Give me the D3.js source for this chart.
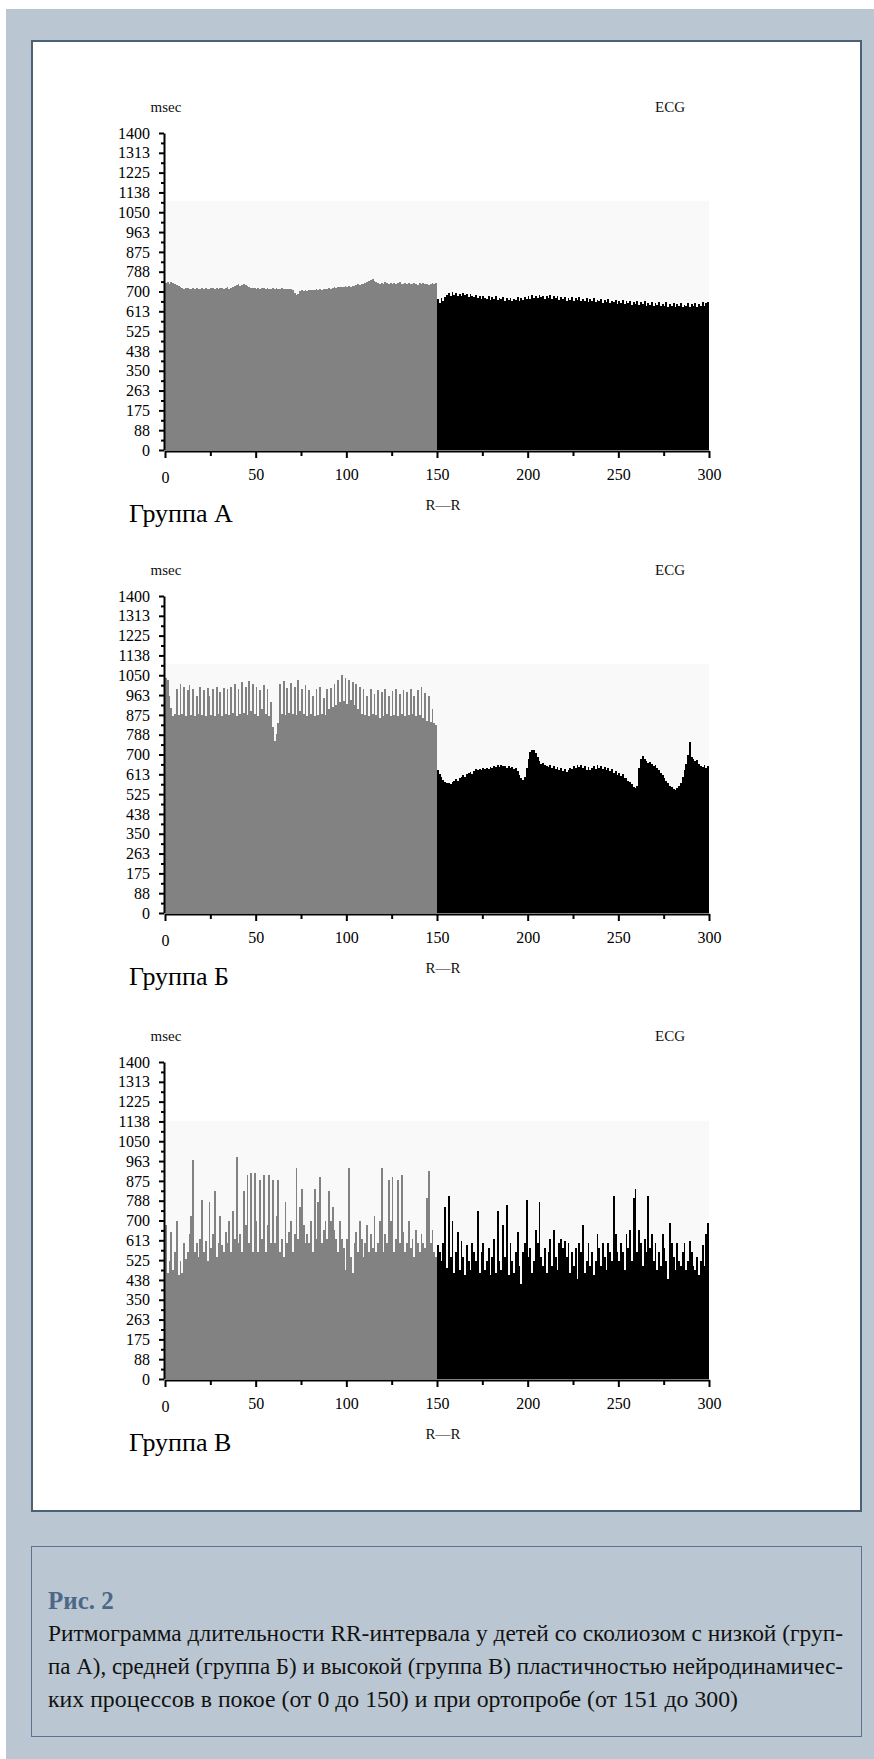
<!DOCTYPE html>
<html>
<head>
<meta charset="utf-8">
<script src="https://cdn.jsdelivr.net/npm/d3@7"></script>
<style>
body { margin: 0; background: #fff; }
</style>
</head>
<body>
<script>
// --- data ---
var groupNames = ['Группа А', 'Группа Б', 'Группа В'];
var xTicks = [0, 50, 100, 150, 200, 250, 300];
var xMinorTicks = [25, 75, 125, 175, 225, 275];
var yTickLabels = ['0', '88', '175', '263', '350', '438', '525', '613', '700',
  '788', '875', '963', '1050', '1138', '1225', '1313', '1400'];
var bandTops = [1100, 1100, 1140];

// группа А, покой (1-150)
var restA = [738, 742, 735, 740, 736, 733, 728, 726,
  718, 715, 712, 716, 714, 711, 713, 716, 712, 714, 710, 713,
  715, 712, 716, 713, 711, 714, 717, 712, 715, 713, 716, 714, 712, 715, 718, 713, 716, 720, 724, 728,
  732, 726, 729, 733, 727, 724, 720, 716, 714, 717,
  713, 716, 712, 715, 714, 711, 716, 713, 710, 714, 712, 715, 711, 713, 716, 712, 709, 713, 710, 712, 708,
  695, 684, 690, 702, 706,
  704, 707, 703, 706, 708, 705, 707, 709, 706, 710, 708, 711, 709, 712, 714, 712, 716, 718, 716,
  720, 718, 722, 719, 723, 721, 725, 722, 726, 724, 728, 731, 729, 733, 735, 738, 741,
  746, 752, 756, 748, 742, 737,
  734, 738, 735, 740, 736, 733, 737, 735, 739, 734, 736, 740, 732, 735, 738, 733, 736, 731, 735, 738,
  734, 730, 736, 733, 738, 732, 735, 729, 734, 737, 731, 736];
// группа А, ортопроба (151-300)
var orthoA = [665, 650, 672, 660, 676,
  684, 692, 680, 698, 686, 694, 682, 690, 678, 695, 684, 688, 676, 690, 680,
  674, 684, 670, 679, 666, 680, 672, 668, 678, 664, 674, 668, 679, 662, 672, 666, 676, 660, 670, 664,
  672, 658, 668, 662, 674, 660, 670, 664, 676, 666,
  678, 668, 684, 672, 680, 670, 686, 674, 682, 668, 680, 672, 684, 666, 678, 670, 682, 664, 676, 668,
  674, 660, 672, 664, 676, 658, 670, 662, 674, 656, 668, 660, 672, 654, 666, 658, 670, 652, 664, 656,
  666, 650, 662, 654, 668, 648, 660, 652, 664, 646, 658, 650, 662, 644, 656, 648, 660, 642, 654, 646,
  658, 640, 652, 644, 656, 638, 650, 642, 655, 636, 648, 640, 654, 634, 646, 638, 652, 632, 645, 637,
  650, 632, 644, 636, 650, 630, 642, 635, 648, 630, 644, 636, 650, 632, 645, 638, 652, 634, 648, 655];

// группа Б
var restB = [1040, 1030, 960, 905, 870, 880, 990, 875, 1010, 880,
  1000, 870, 985, 1005, 875, 990, 870, 960, 880, 1000,
  875, 985, 870, 995, 960, 875, 990, 870, 1000, 880,
  975, 870, 995, 880, 990, 875, 1000, 885, 1010, 870,
  990, 880, 1020, 885, 1000, 875, 1025, 890, 1010, 880,
  1000, 870, 985, 900, 1005, 880, 990, 870, 930, 820,
  760, 790, 840, 1010, 880, 1025, 875, 995, 885, 1015,
  880, 1000, 875, 1030, 890, 990, 880, 1005, 870, 985,
  880, 960, 870, 990, 875, 1000, 880, 950, 875, 990,
  900, 995, 910, 1010, 920, 1030, 930, 1050, 935, 1040,
  925, 1030, 940, 1020, 920, 1010, 900, 1000, 880, 990,
  875, 960, 870, 990, 880, 965, 875, 985, 860, 975,
  870, 990, 880, 960, 870, 980, 875, 990, 870, 965,
  880, 985, 870, 975, 875, 990, 880, 960, 870, 985,
  875, 1000, 860, 970, 850, 960, 845, 900, 840, 830];
var orthoB = [630, 615, 600, 588, 578, 572, 575, 570, 580, 585,
  590, 584, 596, 600, 608, 602, 612, 618, 622, 616,
  628, 635, 630, 638, 632, 640, 636, 642, 638, 645,
  640, 648, 644, 652, 646, 655, 648, 650, 642, 648,
  640, 646, 636, 642, 625, 610, 598, 588, 600, 640,
  680, 712, 722, 718, 705, 690, 672, 660, 664, 655,
  650, 645, 652, 640, 648, 636, 644, 630, 640, 628,
  635, 622, 630, 640, 634, 648, 640, 655, 645, 652,
  640, 648, 632, 644, 630, 642, 650, 638, 652, 640,
  648, 636, 645, 630, 640, 625, 636, 618, 628, 610,
  620, 605, 612, 598, 596, 585, 578, 568, 558, 550,
  560, 640, 680, 695, 682, 670, 662, 668, 660, 650,
  652, 640, 630, 618, 608, 596, 585, 572, 560, 555,
  548, 545, 550, 560, 575, 600, 630, 660, 700, 755,
  690, 680, 670, 675, 660, 650, 645, 655, 640, 648];

// группа В
var restC = [680, 470, 520, 650, 480, 560, 700, 460, 520, 470,
  600, 530, 560, 640, 720, 965, 560, 600, 540, 620,
  790, 560, 610, 520, 780, 580, 640, 830, 540, 600,
  720, 590, 560, 650, 600, 700, 560, 740, 620, 980,
  600, 640, 560, 830, 680, 900, 600, 910, 560, 910,
  700, 560, 880, 620, 900, 560, 680, 900, 600, 880,
  600, 720, 880, 560, 620, 540, 780, 600, 650, 700,
  560, 640, 930, 620, 760, 840, 680, 600, 640, 600,
  700, 560, 840, 620, 780, 890, 600, 660, 700, 620,
  830, 700, 760, 660, 620, 560, 700, 620, 580, 480,
  620, 930, 540, 470, 600, 650, 560, 700, 620, 540,
  600, 680, 560, 640, 580, 720, 560, 600, 700, 930,
  560, 640, 600, 880, 700, 890, 560, 620, 880, 600,
  900, 650, 560, 600, 700, 580, 620, 540, 660, 600,
  560, 640, 600, 580, 800, 920, 600, 660, 560, 540];
var orthoC = [590, 560, 520, 600, 760, 490, 810, 540, 700, 470,
  560, 650, 480, 610, 540, 460, 590, 520, 480, 600,
  560, 520, 740, 470, 560, 600, 480, 520, 580, 460,
  540, 620, 470, 740, 520, 480, 680, 540, 770, 460,
  600, 520, 470, 560, 650, 500, 420, 560, 600, 790,
  540, 580, 470, 520, 660, 600, 780, 540, 500, 580,
  470, 560, 620, 500, 660, 540, 480, 600, 620, 580,
  610, 540, 600, 470, 560, 500, 580, 440, 600, 560,
  680, 470, 520, 600, 500, 560, 460, 520, 640, 580,
  500, 600, 540, 480, 600, 560, 520, 810, 640, 560,
  520, 600, 560, 480, 640, 580, 660, 520, 800, 840,
  560, 660, 600, 500, 620, 560, 810, 580, 640, 520,
  600, 480, 560, 500, 640, 580, 520, 440, 690, 600,
  540, 480, 600, 520, 500, 560, 600, 480, 520, 610,
  560, 500, 480, 540, 460, 520, 590, 500, 640, 690];

var captionTitle = 'Рис. 2';
var captionLines = [
  'Ритмограмма длительности RR-интервала у детей со сколиозом с низкой (груп-',
  'па А), средней (группа Б) и высокой (группа В) пластичностью нейродинамичес-',
  'ких процессов в покое (от 0 до 150) и при ортопробе (от 151 до 300)'
];

var series = [[restA, orthoA], [restB, orthoB], [restC, orthoC]];

// --- layout ---
var W = 874, H = 1759;
var chartTops = [133, 596, 1062];
var plotH = 317, plotL = 165, plotR = 709;
var serif = '"Liberation Serif", "Times New Roman", "DejaVu Serif", serif';

var svg = d3.select('body').append('svg')
  .attr('width', W).attr('height', H)
  .style('font-family', serif);

// frame
svg.append('rect').attr('x', 6).attr('y', 9).attr('width', W - 6).attr('height', H - 9)
  .attr('fill', '#bac7d2');
svg.append('rect').attr('x', 32).attr('y', 41).attr('width', 829).attr('height', 1470)
  .attr('fill', '#fff').attr('stroke', '#4b6178').attr('stroke-width', 2);
svg.append('rect').attr('x', 31.5).attr('y', 1546.5).attr('width', 830).attr('height', 190)
  .attr('fill', 'none').attr('stroke', '#5c7290').attr('stroke-width', 1);

var x = d3.scaleLinear().domain([0, 300]).range([plotL, plotR]);
var yTicks = yTickLabels.map(function(d, i){ return i * 87.5; });
var yMinor = yTicks.slice(1).map(function(d){ return d - 43.75; });

var addText = function(g, px, py, size, txt){
  return g.append('text').attr('x', px).attr('y', py)
    .style('font-family', serif).style('font-size', size + 'px')
    .attr('fill', '#111').text(txt);
};

var drawChart = function(i){
  var top = chartTops[i];
  var y = d3.scaleLinear().domain([0, 1400]).range([top + plotH, top]);
  var g = svg.append('g');
  var all = series[i][0].concat(series[i][1]);
  var nRest = series[i][0].length;

  g.append('rect')
    .attr('x', x(0)).attr('y', y(bandTops[i]))
    .attr('width', x(300) - x(0)).attr('height', y(0) - y(bandTops[i]))
    .attr('fill', '#f9f9f9');

  g.append('g').attr('shape-rendering', 'crispEdges')
    .selectAll('rect')
    .data(all)
    .enter()
    .append('rect')
    .attr('x', function(d, k){ return x(k); })
    .attr('width', function(d, k){ return x(k + 1) - x(k); })
    .attr('y', function(d){ return y(d); })
    .attr('height', function(d){ return y(0) - y(d); })
    .attr('fill', function(d, k){ return k < nRest ? '#828282' : '#000'; });

  // axes
  var ya = g.append('g').attr('transform', 'translate(' + (plotL - 1) + ',0)')
    .call(d3.axisLeft(y).tickValues(yTicks)
      .tickFormat(function(d, k){ return yTickLabels[k]; })
      .tickSize(5).tickSizeOuter(0).tickPadding(9));
  g.append('g').attr('transform', 'translate(' + (plotL - 1) + ',0)')
    .call(d3.axisLeft(y).tickValues(yMinor).tickFormat('').tickSize(3).tickSizeOuter(0))
    .select('.domain').remove();

  var xa = g.append('g').attr('transform', 'translate(0,' + (y(0) + 1) + ')')
    .call(d3.axisBottom(x).tickValues(xTicks).tickSize(7).tickSizeOuter(0).tickPadding(11));
  g.append('g').attr('transform', 'translate(0,' + (y(0) + 1) + ')')
    .call(d3.axisBottom(x).tickValues(xMinorTicks).tickFormat('').tickSize(5).tickSizeOuter(0))
    .select('.domain').remove();

  g.selectAll('.domain, .tick line').attr('stroke', '#000').attr('stroke-width', 2);
  [ya, xa].forEach(function(a){
    a.attr('font-family', null).attr('font-size', null);
    a.selectAll('text').attr('fill', '#000')
      .style('font-family', serif).style('font-size', '16px');
  });
  // "0" под осью X сидит чуть ниже остальных подписей
  xa.selectAll('.tick text').filter(function(d){ return d === 0; }).attr('dy', '0.9em');

  addText(g, plotL + 1, top - 21, 15, 'msec').attr('text-anchor', 'middle');
  addText(g, 670, top - 21, 15, 'ECG').attr('text-anchor', 'middle');
  addText(g, 443, y(0) + 60, 15, 'R—R').attr('text-anchor', 'middle');
  addText(g, 129, y(0) + 72, 26, groupNames[i]).attr('fill', '#000');
};

[0, 1, 2].forEach(drawChart);

// caption
addText(svg, 48, 1609, 25, captionTitle)
  .style('font-weight', 'bold').attr('fill', '#4d6887');
var capWidths = [795, 795, 690];
captionLines.forEach(function(t, i){
  addText(svg, 48, 1641 + i * 33, 23, t)
    .attr('textLength', capWidths[i]).attr('lengthAdjust', 'spacingAndGlyphs');
});
</script>
</body>
</html>
